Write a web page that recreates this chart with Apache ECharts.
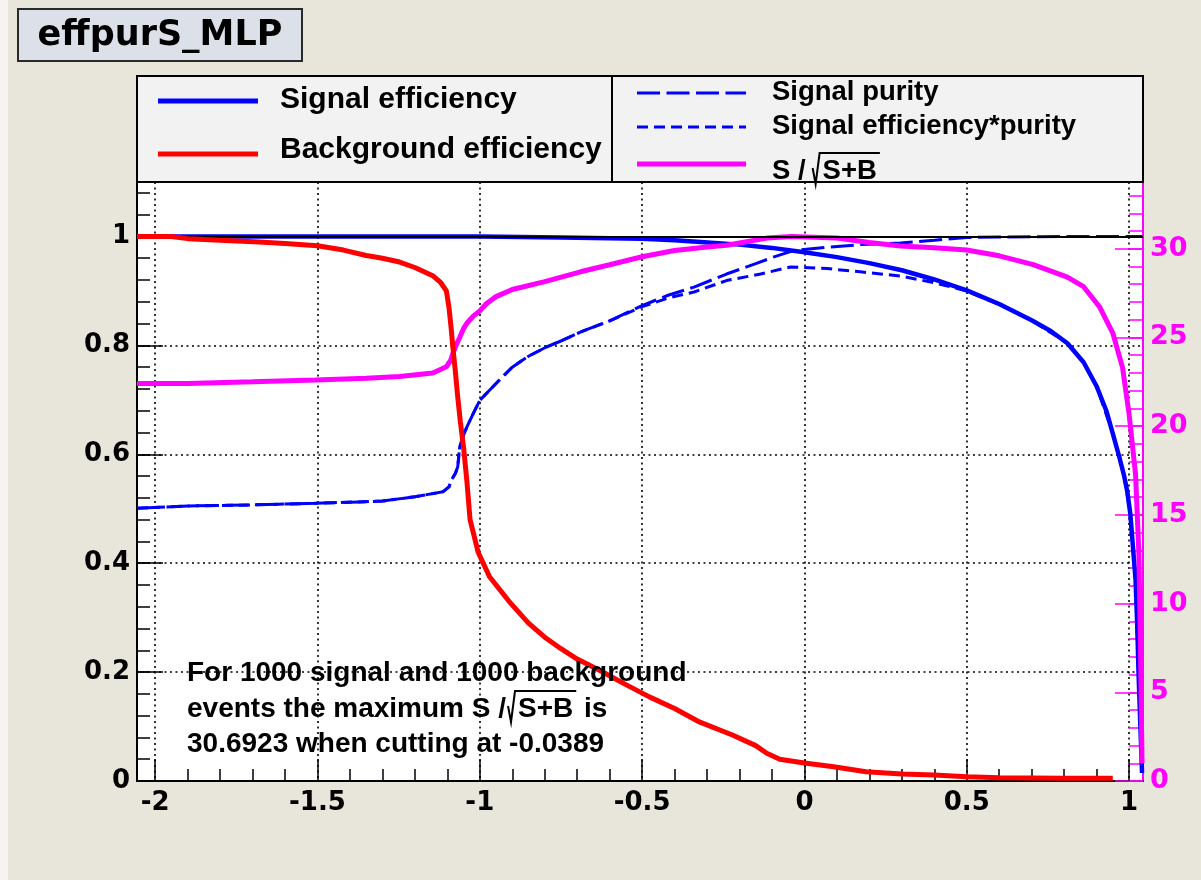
<!DOCTYPE html>
<html>
<head>
<meta charset="utf-8">
<script src="https://cdn.jsdelivr.net/npm/echarts@6/dist/echarts.min.js"></script>
<style>
  html, body { margin: 0; padding: 0; background: #e8e5da; }
  #chart { width: 1201px; height: 880px; }
</style>
</head>
<body>
<div id="chart"></div>
<script>
// ---- axis ranges and tick positions ----
const xRange = [-2.056, 1.043];
const effRange = [0, 1.1];
const sigMaximum = 30.6923;
const cutAtMaximum = -0.0389;
const sigRange = [0, sigMaximum * 1.1];
const xMajorTicks = [-2, -1.5, -1, -0.5, 0, 0.5, 1];
const effMajorTicks = [0, 0.2, 0.4, 0.6, 0.8, 1];
const sigMajorTicks = [0, 5, 10, 15, 20, 25, 30];
const nSignal = 1000;
const nBackground = 1000;

// ---- curves as [cut value, y] ----
const signalEfficiency = [
  [-2.056, 1.0], [-1.0, 1.0], [-0.75, 0.998], [-0.5, 0.996], [-0.4, 0.993], [-0.32, 0.99],
  [-0.2, 0.985], [-0.1, 0.979], [0.0, 0.971], [0.1, 0.962], [0.2, 0.951], [0.3, 0.938],
  [0.4, 0.921], [0.5, 0.901], [0.6, 0.876], [0.7, 0.846], [0.76, 0.826], [0.81, 0.804],
  [0.86, 0.769], [0.9, 0.725], [0.93, 0.68], [0.95, 0.638], [0.97, 0.595], [0.985, 0.56],
  [0.995, 0.53], [1.004, 0.49], [1.012, 0.43], [1.02, 0.37], [1.025, 0.29], [1.03, 0.185],
  [1.035, 0.1], [1.04, 0.015]
];
const backgroundEfficiency = [
  [-2.056, 1.0], [-1.95, 1.0], [-1.9, 0.996], [-1.8, 0.993], [-1.68, 0.99], [-1.6, 0.987],
  [-1.5, 0.983], [-1.42, 0.975], [-1.35, 0.965], [-1.3, 0.96], [-1.247, 0.953], [-1.2, 0.943],
  [-1.145, 0.928], [-1.12, 0.915], [-1.103, 0.9], [-1.095, 0.87], [-1.088, 0.83], [-1.083, 0.797],
  [-1.075, 0.75], [-1.068, 0.705], [-1.06, 0.66], [-1.05, 0.613], [-1.04, 0.552], [-1.03, 0.48],
  [-1.005, 0.42], [-0.97, 0.375], [-0.91, 0.33], [-0.85, 0.29], [-0.8, 0.264], [-0.75, 0.243],
  [-0.7, 0.224], [-0.63, 0.203], [-0.55, 0.177], [-0.476, 0.154], [-0.4, 0.133], [-0.322, 0.108],
  [-0.22, 0.084], [-0.15, 0.065], [-0.116, 0.051], [-0.076, 0.04], [0.0, 0.033], [0.09, 0.026],
  [0.19, 0.017], [0.3, 0.013], [0.4, 0.011], [0.5, 0.008], [0.6, 0.006], [0.8, 0.005], [0.95, 0.005]
];
const signalPurity = [
  [-2.056, 0.501], [-1.9, 0.505], [-1.7, 0.507], [-1.505, 0.51], [-1.3, 0.514], [-1.2, 0.522],
  [-1.114, 0.531], [-1.095, 0.54], [-1.088, 0.552], [-1.075, 0.565], [-1.068, 0.577], [-1.062, 0.613],
  [-1.05, 0.635], [-1.04, 0.65], [-1.02, 0.675], [-1.0, 0.699], [-0.95, 0.73], [-0.9, 0.76],
  [-0.85, 0.78], [-0.795, 0.797], [-0.75, 0.808], [-0.692, 0.824], [-0.6, 0.845], [-0.5, 0.873],
  [-0.42, 0.892], [-0.34, 0.907], [-0.24, 0.931], [-0.15, 0.95], [-0.096, 0.962], [-0.034, 0.974],
  [0.07, 0.98], [0.172, 0.985], [0.296, 0.988], [0.4, 0.993], [0.5, 0.998], [0.6, 0.999],
  [0.8, 1.0], [1.04, 1.0]
];
const signalEffTimesPurity = [
  [-2.056, 0.501], [-1.9, 0.505], [-1.7, 0.507], [-1.505, 0.51], [-1.3, 0.514], [-1.2, 0.522],
  [-1.114, 0.531], [-1.095, 0.54], [-1.088, 0.552], [-1.075, 0.565], [-1.068, 0.577], [-1.062, 0.613],
  [-1.05, 0.635], [-1.04, 0.65], [-1.02, 0.675], [-1.0, 0.699], [-0.95, 0.73], [-0.9, 0.76],
  [-0.85, 0.78], [-0.795, 0.797], [-0.75, 0.808], [-0.692, 0.824], [-0.6, 0.845], [-0.5, 0.871],
  [-0.42, 0.887], [-0.34, 0.898], [-0.24, 0.919], [-0.135, 0.931], [-0.043, 0.944], [0.07, 0.941],
  [0.172, 0.935], [0.3, 0.927], [0.4, 0.915], [0.5, 0.9], [0.6, 0.875], [0.7, 0.846],
  [0.81, 0.804], [0.86, 0.769], [0.9, 0.725], [0.95, 0.638], [0.985, 0.56], [1.004, 0.49],
  [1.02, 0.37], [1.03, 0.185], [1.04, 0.015]
];
const significance = [
  [-2.056, 22.4], [-1.9, 22.4], [-1.7, 22.5], [-1.505, 22.6], [-1.35, 22.7], [-1.247, 22.8],
  [-1.145, 23.0], [-1.103, 23.35], [-1.09, 23.7], [-1.083, 24.1], [-1.072, 24.6], [-1.062, 25.0],
  [-1.05, 25.5], [-1.04, 25.8], [-1.02, 26.2], [-1.0, 26.5], [-0.98, 26.9], [-0.95, 27.3],
  [-0.9, 27.7], [-0.8, 28.15], [-0.69, 28.7], [-0.6, 29.1], [-0.5, 29.55], [-0.4, 29.9],
  [-0.3, 30.1], [-0.24, 30.2], [-0.116, 30.6], [-0.039, 30.69], [0.1, 30.6], [0.2, 30.35],
  [0.296, 30.15], [0.4, 30.05], [0.5, 29.93], [0.6, 29.6], [0.705, 29.1], [0.81, 28.4],
  [0.86, 27.86], [0.91, 26.7], [0.95, 25.25], [0.98, 23.3], [1.0, 20.7], [1.02, 17.3],
  [1.03, 13.0], [1.035, 8.0], [1.04, 1.0]
];

// minor ticks: five subdivisions per major step
function minorTicks(majors, step, upTo) {
  const out = [];
  const sub = step / 5;
  for (let v = majors[0]; v <= upTo + 1e-9; v += sub) {
    out.push(Math.round(v * 1000) / 1000);
  }
  return out;
}
const xMinorTicks = minorTicks(xMajorTicks, 0.5, xRange[1]);
const effMinorTicks = minorTicks(effMajorTicks, 0.2, effRange[1]);
const sigMinorTicks = minorTicks(sigMajorTicks, 5, sigRange[1]);

// ---- fonts ----
const FONT_AXIS = 'DejaVu Sans';
const SMALL_SIZE = 27.5;
const FONT_SMALL = 'bold ' + SMALL_SIZE + 'px "Liberation Sans"';
const NOTE_SIZE = 28;
const FONT_NOTE = 'bold ' + NOTE_SIZE + 'px "Liberation Sans"';
const FONT_BIG = 'bold 30px "Liberation Sans"';
const FONT_TITLE = 'bold 35px "DejaVu Sans"';

const measureCtx = document.createElement('canvas').getContext('2d');
function textWidth(str, font) {
  measureCtx.font = font;
  return measureCtx.measureText(str).width;
}
// place a text element by its baseline (canvas "middle" sits ~0.346 em above baseline)
function textAt(str, x, baseline, font, size, fill, align) {
  return {
    type: 'text',
    z: 100,
    style: {
      text: str, x: x, y: baseline - 0.346 * size, font: font,
      fill: fill || '#000', align: align || 'left', verticalAlign: 'middle'
    }
  };
}
// "S /√S+B" drawn with a radical and an overline over "S+B"
function sOverSqrt(x, baseline, font, size, gap, tail) {
  const els = [];
  const pre = 'S /';
  els.push(textAt(pre, x, baseline, font, size));
  const xs = x + textWidth(pre, font) + gap;
  const wSB = textWidth('S+B', font);
  const top = baseline - 28;
  els.push({
    type: 'polyline', z: 100,
    shape: { points: [[xs, baseline - 13], [xs + 3, baseline + 3], [xs + 7, top], [xs + 10 + wSB + 3, top]] },
    style: { stroke: '#000', lineWidth: 2, fill: null }
  });
  els.push(textAt('S+B', xs + 10, baseline, font, size));
  if (tail) els.push(textAt(tail, xs + 10 + wSB + 3, baseline, font, size));
  return els;
}

const chart = echarts.init(document.getElementById('chart'), null, { renderer: 'canvas' });

const dotted = { color: '#000', width: 1.6, type: [2, 3.5] };
const labelStyle = { fontFamily: FONT_AXIS, fontWeight: 'bold', fontSize: 26, color: '#000' };

function valueAxis(extra) {
  return Object.assign({ type: 'value', scale: false, axisPointer: { show: false } }, extra);
}

const graphic = [
  // canvas side strip
  { type: 'rect', z: -10, shape: { x: 0, y: 0, width: 8, height: 880 }, style: { fill: '#f5f4f0' } },
  // title box
  { type: 'rect', z: 90, shape: { x: 18, y: 9, width: 284, height: 52 },
    style: { fill: '#dce1e9', stroke: '#2a2a2a', lineWidth: 2 } },
  textAt('effpurS_MLP', 160, 48, FONT_TITLE, 35, '#000', 'center'),
  // legend box
  { type: 'rect', z: 90, shape: { x: 137, y: 76, width: 1006, height: 106 },
    style: { fill: '#f2f2f2', stroke: '#000', lineWidth: 2 } },
  { type: 'line', z: 95, shape: { x1: 612, y1: 76, x2: 612, y2: 182 }, style: { stroke: '#000', lineWidth: 2 } },
  { type: 'line', z: 95, shape: { x1: 158, y1: 101, x2: 258, y2: 101 }, style: { stroke: '#0000ff', lineWidth: 5 } },
  textAt('Signal efficiency', 280, 110, FONT_BIG, 30),
  { type: 'line', z: 95, shape: { x1: 158, y1: 154, x2: 258, y2: 154 }, style: { stroke: '#ff0000', lineWidth: 5 } },
  textAt('Background efficiency', 280, 160, FONT_BIG, 30),
  { type: 'line', z: 95, shape: { x1: 637, y1: 93, x2: 746, y2: 93 },
    style: { stroke: '#0000ff', lineWidth: 3, lineDash: [23, 6.5] } },
  textAt('Signal purity', 772, 102, FONT_SMALL, SMALL_SIZE),
  { type: 'line', z: 95, shape: { x1: 637, y1: 127, x2: 746, y2: 127 },
    style: { stroke: '#0000ff', lineWidth: 3, lineDash: [11, 6] } },
  textAt('Signal efficiency*purity', 772, 136, FONT_SMALL, SMALL_SIZE),
  { type: 'line', z: 95, shape: { x1: 637, y1: 164, x2: 746, y2: 164 }, style: { stroke: '#ff00ff', lineWidth: 5 } }
].concat(sOverSqrt(772, 181, FONT_SMALL, SMALL_SIZE, 7))
 .concat([
  textAt('For ' + nSignal + ' signal and ' + nBackground + ' background', 187, 683, FONT_NOTE, NOTE_SIZE),
  textAt('events the maximum', 187, 719, FONT_NOTE, NOTE_SIZE)
 ])
 .concat(sOverSqrt(187 + textWidth('events the maximum ', FONT_NOTE), 719, FONT_NOTE, NOTE_SIZE, 2, ' is'))
 .concat([
  textAt(sigMaximum.toFixed(4) + ' when cutting at ' + cutAtMaximum.toFixed(4), 187, 754, FONT_NOTE, NOTE_SIZE)
 ]);

const option = {
  animation: false,
  backgroundColor: '#e8e5da',
  grid: { left: 137, right: 58, top: 182, bottom: 99, show: true, backgroundColor: '#ffffff',
          borderColor: '#000', borderWidth: 2 },
  xAxis: [
    valueAxis({
      min: xRange[0], max: xRange[1], position: 'bottom',
      axisLine: { show: true, onZero: false, lineStyle: { color: '#000', width: 2 } },
      axisTick: { show: true, inside: true, length: 22, customValues: xMajorTicks, lineStyle: { color: '#000', width: 1.5 } },
      axisLabel: Object.assign({ customValues: xMajorTicks, margin: 9 }, labelStyle),
      splitLine: { show: true, lineStyle: dotted }
    }),
    valueAxis({
      min: xRange[0], max: xRange[1], position: 'bottom',
      axisLine: { show: false, onZero: false },
      axisTick: { show: true, inside: true, length: 12, customValues: xMinorTicks, lineStyle: { color: '#000', width: 1.5 } },
      axisLabel: { show: false }, splitLine: { show: false }
    })
  ],
  yAxis: [
    valueAxis({
      min: effRange[0], max: effRange[1], position: 'left',
      axisLine: { show: true, onZero: false, lineStyle: { color: '#000', width: 2 } },
      axisTick: { show: true, inside: true, length: 26, customValues: effMajorTicks, lineStyle: { color: '#000', width: 1.5 } },
      axisLabel: Object.assign({ customValues: effMajorTicks, margin: 7 }, labelStyle),
      splitLine: { show: true, lineStyle: dotted }
    }),
    valueAxis({
      min: sigRange[0], max: sigRange[1], position: 'right',
      axisLine: { show: true, onZero: false, lineStyle: { color: '#ff00ff', width: 2 } },
      axisTick: { show: true, inside: true, length: 28, customValues: sigMajorTicks, lineStyle: { color: '#ff00ff', width: 1.5 } },
      axisLabel: { customValues: sigMajorTicks, margin: 7, fontFamily: FONT_AXIS, fontWeight: 'bold', fontSize: 27, color: '#ff00ff' },
      splitLine: { show: false }
    }),
    valueAxis({
      min: effRange[0], max: effRange[1], position: 'left',
      axisLine: { show: false, onZero: false },
      axisTick: { show: true, inside: true, length: 13, customValues: effMinorTicks, lineStyle: { color: '#000', width: 1.5 } },
      axisLabel: { show: false }, splitLine: { show: false }
    }),
    valueAxis({
      min: sigRange[0], max: sigRange[1], position: 'right',
      axisLine: { show: false, onZero: false },
      axisTick: { show: true, inside: true, length: 14, customValues: sigMinorTicks, lineStyle: { color: '#ff00ff', width: 1.5 } },
      axisLabel: { show: false }, splitLine: { show: false }
    })
  ],
  series: [
    {
      name: 'Signal efficiency', type: 'line', xAxisIndex: 0, yAxisIndex: 0, z: 2,
      data: signalEfficiency, showSymbol: false, symbol: 'none',
      lineStyle: { color: '#0000ff', width: 4.5 },
      markLine: {
        silent: true, symbol: 'none', label: { show: false },
        lineStyle: { color: '#000', width: 2, type: 'solid' },
        data: [{ yAxis: 1 }]
      }
    },
    {
      name: 'Signal purity', type: 'line', xAxisIndex: 0, yAxisIndex: 0, z: 3,
      data: signalPurity, showSymbol: false, symbol: 'none',
      lineStyle: { color: '#0000ff', width: 3, type: [23, 6.5] }
    },
    {
      name: 'Signal efficiency*purity', type: 'line', xAxisIndex: 0, yAxisIndex: 0, z: 3,
      data: signalEffTimesPurity, showSymbol: false, symbol: 'none',
      lineStyle: { color: '#0000ff', width: 3, type: [11, 6] }
    },
    {
      name: 'S/sqrt(S+B)', type: 'line', xAxisIndex: 0, yAxisIndex: 1, z: 4,
      data: significance, showSymbol: false, symbol: 'none',
      lineStyle: { color: '#ff00ff', width: 5 }
    },
    {
      name: 'Background efficiency', type: 'line', xAxisIndex: 0, yAxisIndex: 0, z: 6,
      data: backgroundEfficiency, showSymbol: false, symbol: 'none',
      lineStyle: { color: '#ff0000', width: 5 }
    }
  ],
  graphic: graphic
};

chart.setOption(option);
</script>
</body>
</html>
